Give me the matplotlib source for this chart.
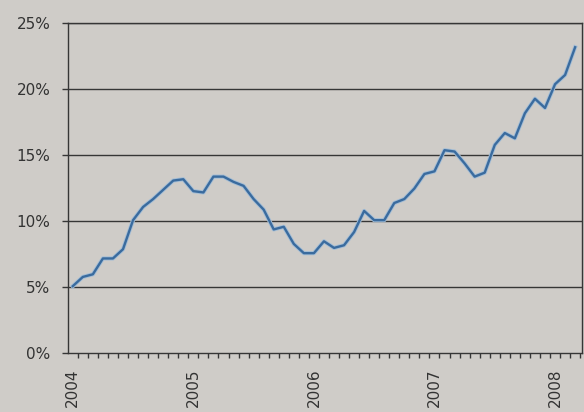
import numpy as np
import matplotlib
matplotlib.use('Agg')
import matplotlib.pyplot as plt
import matplotlib.ticker as ticker

# monthly values, Jan 2004 - Mar 2008 (percent)
rate = [5.1, 5.8, 6.0, 7.2, 7.2, 7.9, 10.1, 11.1, 11.7, 12.4,
        13.1, 13.2, 12.3, 12.2, 13.4, 13.4, 13.0, 12.7, 11.7, 10.9,
        9.4, 9.6, 8.3, 7.6, 7.6, 8.5, 8.0, 8.2, 9.2, 10.8,
        10.1, 10.1, 11.4, 11.7, 12.5, 13.6, 13.8, 15.4, 15.3, 14.4,
        13.4, 13.7, 15.8, 16.7, 16.3, 18.2, 19.3, 18.6, 20.4, 21.1,
        23.2]
years = ['2004', '2005', '2006', '2007', '2008']
year_idx = [0, 12, 24, 36, 48]
yticks = [0, 5, 10, 15, 20, 25]

bg = '#cfccc8'
dark = '#363636'

fig = plt.figure(figsize=(5.84, 4.12), dpi=100)
fig.patch.set_facecolor(bg)
ax = fig.add_axes([0.116, 0.142, 0.88, 0.801])
ax.set_facecolor(bg)

months = np.arange(len(rate))
ax.plot(months, rate, color='#a3bdd6', lw=3.0, solid_joinstyle='round', zorder=3)
ax.plot(months, rate, color='#3a6b9e', lw=1.7, solid_joinstyle='round', zorder=4)

for y in yticks[1:]:
    ax.axhline(y, color=dark, lw=1.0, zorder=2)

ax.set_xlim(-0.5, 50.65)
ax.set_ylim(0, 25)

ax.set_yticks(yticks)
ax.set_yticklabels(['%d%%' % v for v in yticks])
ax.tick_params(axis='y', length=4, width=1.0, color=dark, pad=8.5,
               labelsize=11, labelcolor='#333333')

ax.set_xticks(year_idx)
ax.set_xticklabels(years, rotation=90, va='top', ha='center')
ax.xaxis.set_minor_locator(ticker.FixedLocator(np.arange(0.5, 50.6, 1.0)))
ax.tick_params(axis='x', which='major', length=0, pad=10.5,
               labelsize=11, labelcolor='#333333')
ax.tick_params(axis='x', which='minor', length=3.5, width=1.0, color=dark)

for s in ax.spines.values():
    s.set_color(dark)
    s.set_linewidth(1.0)

fig.savefig('out.png', dpi=100, facecolor=bg)
